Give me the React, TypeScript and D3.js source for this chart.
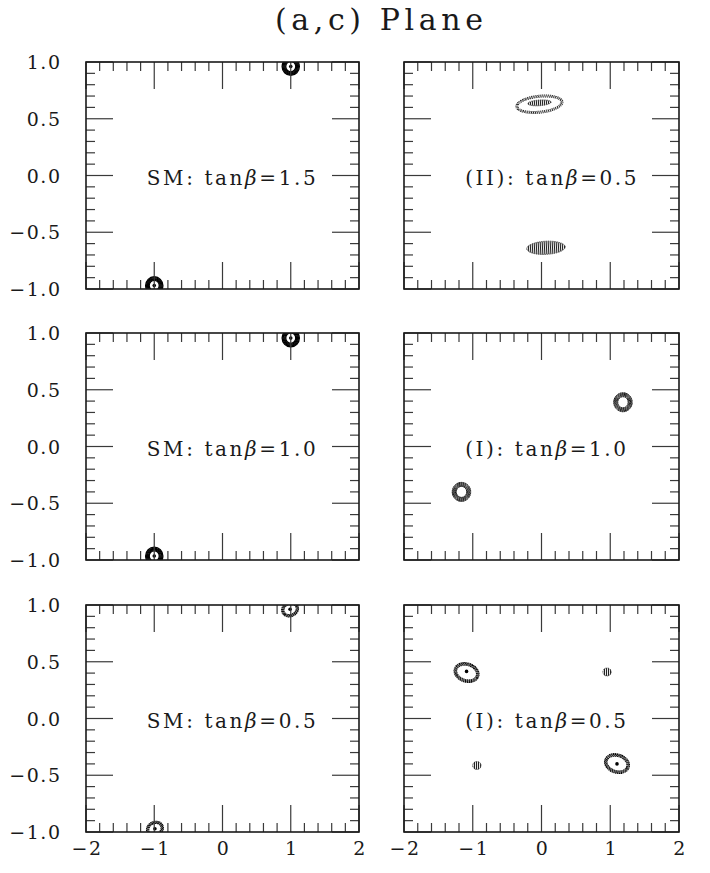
import React from "react";
import * as d3 from "d3";

const title = "(a,c) Plane";
const xMajorTicks = [-2, -1, 0, 1, 2];
const xTickLabels = ["\u22122", "\u22121", "0", "1", "2"];
const yMajorTicks = [-1, -0.5, 0, 0.5, 1];
const yTickLabels = ["\u22121.0", "\u22120.5", "0.0", "0.5", "1.0"];

const panelModels = ["SM", "(II)", "SM", "(I)", "SM", "(I)"];
const panelTanBeta = ["1.5", "0.5", "1.0", "1.0", "0.5", "0.5"];

// allowed regions in the (a,c) plane: centre (a,c), half-extent (ra,rc), tilt in degrees
const regionPanel = [0, 0, 1, 1, 1, 2, 2, 3, 3, 4, 4, 5, 5, 5, 5];
const regionA = [1.0, -1.0, -0.03, -0.03, 0.065, 1.0, -1.0, 1.185, -1.164, 0.99, -0.99, -1.09, 0.953, -0.94, 1.098];
const regionC = [0.96, -0.97, 0.628, 0.64, -0.637, 0.955, -0.965, 0.39, -0.4, 0.962, -0.972, 0.405, 0.41, -0.414, -0.397];
const regionRA = [0.1, 0.1, 0.33, 0.17, 0.28, 0.1, 0.1, 0.105, 0.105, 0.11, 0.11, 0.17, 0.06, 0.06, 0.17];
const regionRC = [0.062, 0.062, 0.07, 0.025, 0.058, 0.062, 0.062, 0.066, 0.066, 0.055, 0.055, 0.075, 0.035, 0.035, 0.075];
const regionTilt = [0, 0, -6, -4, -3, 0, 0, 0, 0, -25, -25, 18, 0, 0, 18];
const regionKind = ["solid", "solid", "dotted", "fill", "fill", "solid", "solid", "thick", "thick", "thin", "thin", "ring", "fill", "fill", "ring"];

// best-fit points (centre dots)
const dotPanel = [0, 0, 2, 2, 4, 4, 5, 5];
const dotA = [1.0, -1.0, 1.0, -1.0, 0.99, -0.99, -1.09, 1.098];
const dotC = [0.96, -0.97, 0.955, -0.965, 0.962, -0.972, 0.415, -0.4];

const colX = [86, 404];
const colW = [273, 275];
const rowY = [62, 333, 605];
const rowH = 227;

const serif = "'DejaVu Serif', 'Liberation Serif', serif";

const offsetsByKind: Record<string, number[]> = {
  solid: [-1.8, -0.9, 0, 0.9, 1.8],
  thick: [-2, -1.2, -0.4, 0.4, 1.2, 2],
  dotted: [-1, 0, 1],
  thin: [-1.2, -0.4, 0.4, 1.2],
  ring: [-1.5, -0.6, 0.3, 1.1],
};

function Panel({ idx }: { idx: number }) {
  const col = idx % 2;
  const row = Math.floor(idx / 2);
  const x0 = colX[col];
  const y0 = rowY[row];
  const w = colW[col];
  const xs = d3.scaleLinear().domain([-2, 2]).range([x0, x0 + w]);
  const ys = d3.scaleLinear().domain([-1, 1]).range([y0 + rowH, y0]);
  const majorLen = 27;
  const minorLen = 9;
  const xMinor = d3.range(-2, 2.0001, 0.2).filter((v) => Math.abs(v - Math.round(v)) > 1e-6);
  const yMinor = d3.range(-1, 1.0001, 0.1).filter((v) => Math.abs(v * 2 - Math.round(v * 2)) > 1e-6);
  const tickColor = "#3a3a3a";
  const clipId = `clip${idx}`;

  const regions = regionPanel
    .map((p, i) => ({ p, i }))
    .filter((r) => r.p === idx)
    .map(({ i }) => {
      const cx = xs(regionA[i]);
      const cy = ys(regionC[i]);
      const rx = xs(regionA[i] + regionRA[i]) - cx;
      const ry = cy - ys(regionC[i] + regionRC[i]);
      const kind = regionKind[i];
      const tr = `rotate(${regionTilt[i]},${cx},${cy})`;
      if (kind === "fill") {
        return (
          <g key={i}>
            <ellipse cx={cx} cy={cy} rx={rx} ry={ry} transform={tr} fill="url(#hatch)" stroke="#333" strokeWidth={0.9} strokeDasharray="1 0.8" />
          </g>
        );
      }
      const offs = offsetsByKind[kind];
      const dash = kind === "solid" ? undefined : kind === "dotted" ? "1.1 0.8" : kind === "thick" ? "1.8 0.4" : "1.4 0.5";
      const color = kind === "dotted" ? "#222" : "#000";
      return (
        <g key={i} transform={tr}>
          {offs.map((o, k) => (
            <ellipse
              key={k}
              cx={cx}
              cy={cy}
              rx={Math.max(rx + o, 0.5)}
              ry={Math.max(ry + o, 0.5)}
              fill="none"
              stroke={color}
              strokeWidth={kind === "solid" ? 1.3 : 1}
              strokeDasharray={dash}
              strokeDashoffset={k * 0.7}
            />
          ))}
        </g>
      );
    });

  const dots = dotPanel
    .map((p, i) => ({ p, i }))
    .filter((r) => r.p === idx)
    .map(({ i }) => <circle key={i} cx={xs(dotA[i])} cy={ys(dotC[i])} r={1.8} fill="#000" />);

  return (
    <g>
      <clipPath id={clipId}>
        <rect x={x0} y={y0} width={w} height={rowH} />
      </clipPath>
      <g clipPath={`url(#${clipId})`}>
        {regions}
        {dots}
      </g>
      {xMajorTicks.map((v) => (
        <g key={`xM${v}`} stroke={tickColor} strokeWidth={1.2}>
          <line x1={xs(v)} x2={xs(v)} y1={y0} y2={y0 + majorLen} />
          <line x1={xs(v)} x2={xs(v)} y1={y0 + rowH} y2={y0 + rowH - majorLen} />
        </g>
      ))}
      {xMinor.map((v, k) => (
        <g key={`xm${k}`} stroke={tickColor} strokeWidth={1.2}>
          <line x1={xs(v)} x2={xs(v)} y1={y0} y2={y0 + minorLen} />
          <line x1={xs(v)} x2={xs(v)} y1={y0 + rowH} y2={y0 + rowH - minorLen} />
        </g>
      ))}
      {yMajorTicks.map((v) => (
        <g key={`yM${v}`} stroke={tickColor} strokeWidth={1.2}>
          <line x1={x0} x2={x0 + majorLen} y1={ys(v)} y2={ys(v)} />
          <line x1={x0 + w} x2={x0 + w - majorLen} y1={ys(v)} y2={ys(v)} />
        </g>
      ))}
      {yMinor.map((v, k) => (
        <g key={`ym${k}`} stroke={tickColor} strokeWidth={1.2}>
          <line x1={x0} x2={x0 + minorLen} y1={ys(v)} y2={ys(v)} />
          <line x1={x0 + w} x2={x0 + w - minorLen} y1={ys(v)} y2={ys(v)} />
        </g>
      ))}
      <rect x={x0} y={y0} width={w} height={rowH} fill="none" stroke="#1a1a1a" strokeWidth={1.6} />
      <text x={xs(-1.11)} y={ys(-0.085)} fontFamily={serif} fontSize={20} letterSpacing={2.6} fill="#1a1a1a">
        {panelModels[idx]}:{" "}tan<tspan fontStyle="italic">β</tspan>={panelTanBeta[idx]}
      </text>
      {col === 0 &&
        yMajorTicks.map((v, k) => (
          <text key={`yl${k}`} x={x0 - 24.5} y={ys(v) + 7} textAnchor="end" fontFamily={serif} fontSize={19} letterSpacing={1.5} fill="#1a1a1a">
            {yTickLabels[k]}
          </text>
        ))}
      {row === 2 &&
        xMajorTicks.map((v, k) => (
          <text key={`xl${k}`} x={xs(v) + 1} y={y0 + rowH + 23} textAnchor="middle" fontFamily={serif} fontSize={19} letterSpacing={1.5} fill="#1a1a1a">
            {xTickLabels[k]}
          </text>
        ))}
    </g>
  );
}

export default function App() {
  return (
    <svg width={710} height={873} style={{ position: "absolute", left: 0, top: 0, background: "#fff" }}>
      <defs>
        <pattern id="hatch" width={2} height={2} patternUnits="userSpaceOnUse">
          <rect width={2} height={2} fill="#fff" />
          <rect width={1.1} height={2} fill="#222" />
        </pattern>
      </defs>
      <rect width={710} height={873} fill="#fff" />
      <text x={379} y={30} textAnchor="middle" fontFamily={serif} fontSize={30} textLength={208} lengthAdjust="spacing" fill="#1a1a1a">
        {title}
      </text>
      {panelModels.map((_, i) => (
        <Panel key={i} idx={i} />
      ))}
    </svg>
  );
}
